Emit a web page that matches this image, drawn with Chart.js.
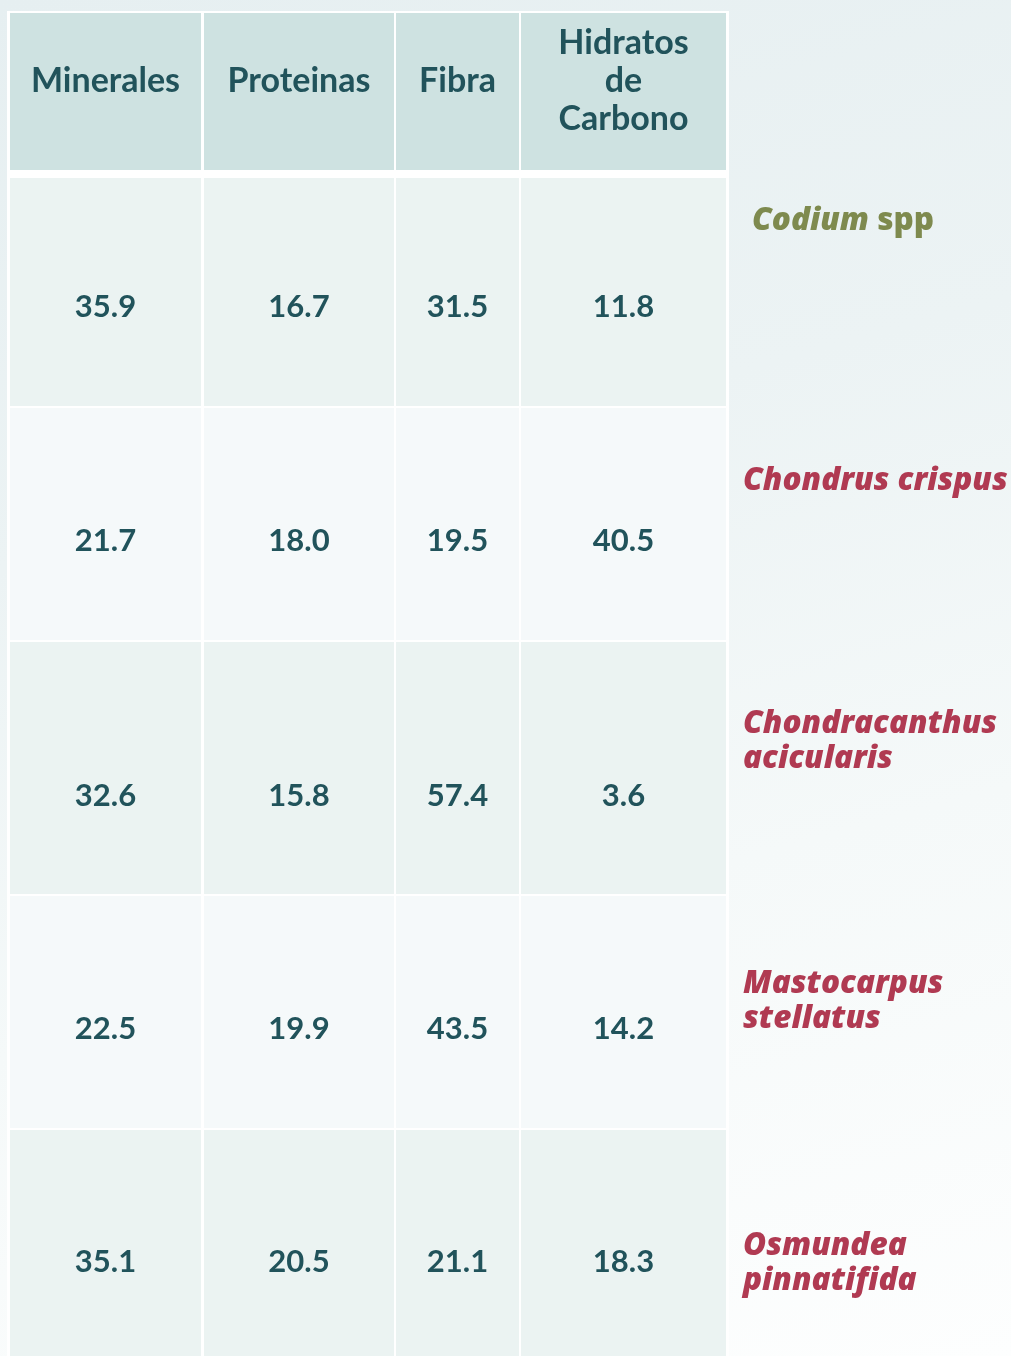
<!DOCTYPE html>
<html>
<head>
<meta charset="utf-8">
<script src="https://cdn.jsdelivr.net/npm/chart.js@4/dist/chart.umd.min.js"></script>
<style>
html,body{margin:0;padding:0;}
body{width:1011px;height:1356px;overflow:hidden;
 background:linear-gradient(165deg,#e6eff1 0%,#ecf3f4 35%,#f5f9f9 65%,#fdfefe 100%);}
#wrap{position:relative;width:1011px;height:1356px;}
canvas{display:block;}
</style>
</head>
<body>
<div id="wrap"><canvas id="c" width="1011" height="1356"></canvas></div>
<script>
// ---------- DATA ----------
const columns = ['Minerales', 'Proteinas', 'Fibra', 'Hidratos de Carbono'];
const species = ['Codium spp', 'Chondrus crispus', 'Chondracanthus acicularis', 'Mastocarpus stellatus', 'Osmundea pinnatifida'];
const minerales = [35.9, 21.7, 32.6, 22.5, 35.1];
const proteinas = [16.7, 18.0, 15.8, 19.9, 20.5];
const fibra     = [31.5, 19.5, 57.4, 43.5, 21.1];
const hidratos  = [11.8, 40.5, 3.6, 14.2, 18.3];
const speciesGroup = ['green', 'red', 'red', 'red', 'red'];

// ---------- LAYOUT (scale units = px) ----------
const layout = {
  frame: [7, 11, 729, 1400],
  colX: [[10, 201], [204, 394], [396, 519], [521, 726]],
  headerY: [13, 170], headerTextY: 81, headerLineH: 38,
  rowY: [[178, 406], [408, 640], [642, 894], [896, 1128], [1130, 1400]],
  rowTextY: [307, 541, 796, 1029, 1262],
  labelX: [752, 743, 743, 743, 743],
  labelY: [221, 481, 724, 984, 1246],
  labelLineH: 35, labelMaxW: 280
};
const style = {
  headerFill: '#cee2e1',
  rowFill: ['#ebf3f2', '#f5f9fa'],
  frame: '#ffffff',
  text: '#21535b',
  green: '#7e8a4e',
  red: '#b03a52',
  headFont: '700 34px Lato',
  valFont: '700 31px Lato',
  labItal: 'italic 800 31.5px "Open Sans"',
  labUp: '800 31.5px "Open Sans"'
};

const series = [minerales, proteinas, fibra, hidratos];
const points = [];
series.forEach((s, ci) => s.forEach((v, ri) => points.push({x: (layout.colX[ci][0] + layout.colX[ci][1]) / 2, y: layout.rowTextY[ri], v: v})));

const tablePlugin = {
  id: 'tablePlugin',
  beforeDatasetsDraw(chart) {
    const {ctx, scales: {x, y}} = chart;
    const rect = (x0, y0, x1, y1, fill) => {
      const px0 = x.getPixelForValue(x0), px1 = x.getPixelForValue(x1);
      const py0 = y.getPixelForValue(y0), py1 = y.getPixelForValue(y1);
      ctx.fillStyle = fill;
      ctx.fillRect(px0, py0, px1 - px0, py1 - py0);
    };
    ctx.save();
    const f = layout.frame;
    rect(f[0], f[1], f[2], f[3], style.frame);
    layout.colX.forEach((cx, ci) => {
      rect(cx[0], layout.headerY[0], cx[1], layout.headerY[1], style.headerFill);
      layout.rowY.forEach((ry, ri) => rect(cx[0], ry[0], cx[1], ry[1], style.rowFill[ri % 2]));
    });
    // header text
    ctx.fillStyle = style.text;
    ctx.font = style.headFont;
    ctx.textAlign = 'center';
    ctx.textBaseline = 'middle';
    columns.forEach((c, ci) => {
      const words = c.split(' ');
      const cx = x.getPixelForValue((layout.colX[ci][0] + layout.colX[ci][1]) / 2);
      words.forEach((w, wi) => {
        const yy = layout.headerTextY + (wi - (words.length - 1) / 2) * layout.headerLineH;
        ctx.fillText(w, cx, y.getPixelForValue(yy));
      });
    });
    // species labels
    ctx.textAlign = 'left';
    species.forEach((s, si) => {
      const words = s.split(' ');
      const color = speciesGroup[si] === 'green' ? style.green : style.red;
      ctx.fillStyle = color;
      const isSpp = words[1] === 'spp';
      ctx.font = style.labItal;
      let lines;
      if (isSpp || ctx.measureText(s).width <= layout.labelMaxW) lines = [words];
      else lines = words.map(w => [w]);
      lines.forEach((lw, li) => {
        let px = x.getPixelForValue(layout.labelX[si]);
        const py = y.getPixelForValue(layout.labelY[si] + li * layout.labelLineH);
        lw.forEach((w, wi) => {
          ctx.font = (w === 'spp') ? style.labUp : style.labItal;
          ctx.fillText(w, px, py);
          px += ctx.measureText(w + ' ').width;
        });
      });
    });
    ctx.restore();
  },
  afterDatasetsDraw(chart) {
    const {ctx} = chart;
    const meta = chart.getDatasetMeta(0);
    ctx.save();
    ctx.fillStyle = style.text;
    ctx.font = style.valFont;
    ctx.textAlign = 'center';
    ctx.textBaseline = 'middle';
    meta.data.forEach((el, i) => {
      ctx.fillText(points[i].v.toFixed(1), el.x, el.y);
    });
    ctx.restore();
  }
};

new Chart(document.getElementById('c'), {
  type: 'scatter',
  data: { datasets: [{ data: points, pointRadius: 0, pointHoverRadius: 0, showLine: false }] },
  options: {
    responsive: false,
    animation: false,
    devicePixelRatio: 1,
    layout: { padding: 0 },
    events: [],
    plugins: { legend: { display: false }, tooltip: { enabled: false } },
    scales: {
      x: { type: 'linear', min: 0, max: 1011, display: false },
      y: { type: 'linear', min: 0, max: 1356, reverse: true, display: false }
    }
  },
  plugins: [tablePlugin]
});
</script>
</body>
</html>
